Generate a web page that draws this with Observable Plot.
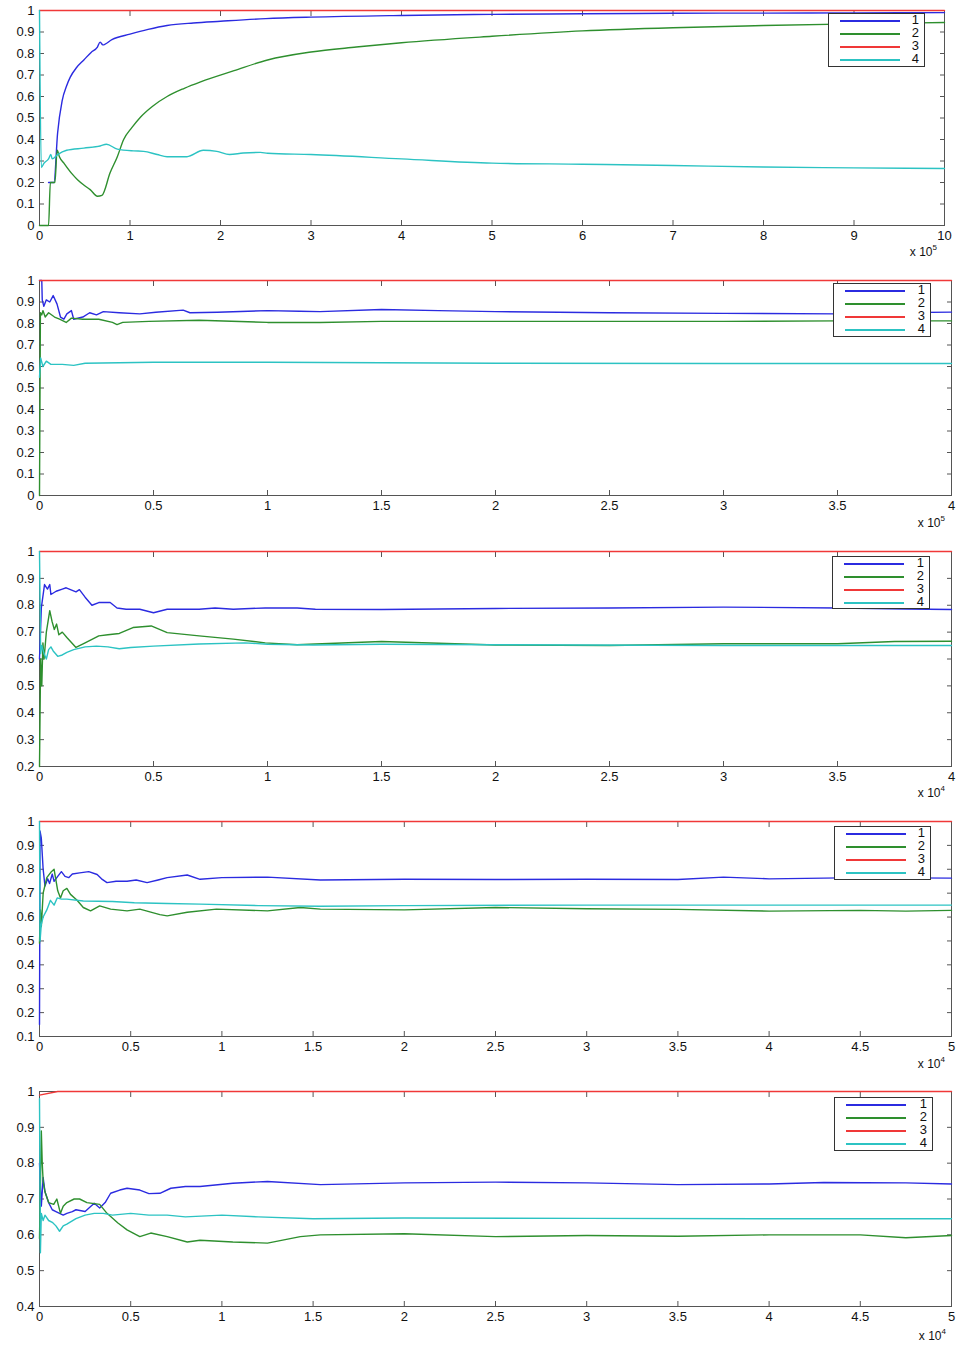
<!DOCTYPE html>
<html><head><meta charset="utf-8">
<script src="https://cdn.jsdelivr.net/npm/d3@7"></script>
<script src="https://cdn.jsdelivr.net/npm/@observablehq/plot@0.6"></script>
<style>
body{margin:0;background:#fff;font-family:"Liberation Sans",Arial,sans-serif;}
#root{position:relative;width:958px;height:1346px;overflow:hidden;background:#fff}
.panel{position:absolute;left:0;width:958px}
.panel svg{display:block}
.legend{position:absolute;border:1px solid #333;background:#fff;box-sizing:border-box;font-size:13px;color:#111}
.legend .row{position:relative;height:13px}
.legend .ln{position:absolute;left:11px;width:60px;top:6px;height:2px}
.legend .lb{position:absolute;right:5px;top:-1px;line-height:14px}
.exp{position:absolute;font-size:12px;color:#111;white-space:nowrap}
.exp sup{font-size:8px;position:relative;top:-1px}
</style>
</head><body><div id="root"></div>
<script>
// ---------- data ----------
const seriesNames = ["1", "2", "3", "4"];
const seriesColors = ["#2b2be0", "#2e8f2e", "#f03838", "#2cc3c3"];

// Panel 1 (x in units of 10^5)
const p1X = [0,1,2,3,4,5,6,7,8,9,10];
const p1Y = [0,0.1,0.2,0.3,0.4,0.5,0.6,0.7,0.8,0.9,1];
const p1S1 = [[0.1,0.2],[0.16,0.2],[0.2,0.43],[0.25,0.58],[0.3,0.65],[0.34,0.69],[0.41,0.735],[0.49,0.77],[0.57,0.805],[0.64,0.83],[0.67,0.853],[0.7,0.84],[0.8,0.865],[1.0,0.89],[1.2,0.912],[1.41,0.93],[1.7,0.942],[2.0,0.95],[2.5,0.962],[3.0,0.969],[4.0,0.977],[5,0.982],[6,0.985],[7,0.987],[8,0.988],[9,0.989],[10,0.99]];
const p1S2 = [[0,0],[0.1,0],[0.12,0.2],[0.17,0.2],[0.195,0.35],[0.22,0.32],[0.27,0.29],[0.36,0.24],[0.42,0.213],[0.5,0.185],[0.56,0.167],[0.64,0.136],[0.69,0.14],[0.78,0.245],[0.86,0.32],[0.93,0.40],[1.02,0.455],[1.12,0.506],[1.25,0.555],[1.41,0.60],[1.6,0.638],[1.78,0.668],[2.15,0.72],[2.52,0.77],[3.0,0.807],[3.5,0.83],[4,0.85],[5,0.88],[6,0.905],[7,0.92],[8,0.93],[9,0.938],[10,0.944]];
const p1S3 = [[0,1],[10,1]];
const p1S4 = [[0,1],[0.02,0.27],[0.05,0.29],[0.1,0.31],[0.125,0.33],[0.14,0.31],[0.2,0.33],[0.3,0.35],[0.49,0.36],[0.67,0.37],[0.74,0.378],[0.86,0.355],[1.04,0.347],[1.15,0.345],[1.3,0.33],[1.41,0.32],[1.63,0.32],[1.81,0.35],[1.96,0.345],[2.1,0.33],[2.25,0.337],[2.44,0.34],[2.52,0.336],[3.0,0.33],[4,0.31],[5,0.29],[6,0.285],[7,0.279],[8,0.272],[9,0.268],[10,0.265]];

// Panel 2 (x in units of 10^5)
const p2X = [0,0.5,1,1.5,2,2.5,3,3.5,4];
const p2Y = [0,0.1,0.2,0.3,0.4,0.5,0.6,0.7,0.8,0.9,1];
const p2S1 = [[0,1],[0.01,1],[0.012,0.91],[0.019,0.88],[0.03,0.91],[0.045,0.9],[0.06,0.93],[0.077,0.89],[0.092,0.83],[0.107,0.82],[0.12,0.845],[0.14,0.86],[0.15,0.82],[0.19,0.83],[0.22,0.85],[0.25,0.84],[0.28,0.855],[0.35,0.85],[0.44,0.845],[0.51,0.852],[0.63,0.862],[0.66,0.85],[0.78,0.852],[1.0,0.86],[1.14,0.857],[1.23,0.855],[1.5,0.865],[1.75,0.86],[2.0,0.855],[2.5,0.85],[3.0,0.847],[3.5,0.845],[3.75,0.85],[4.0,0.853]];
const p2S2 = [[0,0],[0.004,0.85],[0.01,0.84],[0.015,0.86],[0.025,0.83],[0.04,0.85],[0.066,0.83],[0.088,0.82],[0.117,0.805],[0.14,0.825],[0.19,0.82],[0.26,0.82],[0.32,0.805],[0.34,0.795],[0.365,0.805],[0.48,0.81],[0.7,0.815],[1.0,0.805],[1.23,0.805],[1.5,0.81],[2.0,0.81],[2.5,0.81],[3.0,0.81],[3.5,0.812],[4.0,0.812]];
const p2S3 = [[0,1],[4,1]];
const p2S4 = [[0,0.55],[0.005,0.64],[0.015,0.6],[0.03,0.625],[0.05,0.61],[0.1,0.61],[0.15,0.605],[0.2,0.615],[0.5,0.62],[1,0.62],[2,0.615],[3,0.614],[4,0.614]];

// Panel 3 (x in units of 10^4)
const p3X = [0,0.5,1,1.5,2,2.5,3,3.5,4];
const p3Y = [0.2,0.3,0.4,0.5,0.6,0.7,0.8,0.9,1];
const p3S1 = [[0,0.6],[0.008,0.79],[0.022,0.877],[0.035,0.86],[0.045,0.877],[0.05,0.84],[0.073,0.852],[0.1,0.86],[0.117,0.865],[0.16,0.85],[0.175,0.858],[0.2,0.83],[0.23,0.8],[0.26,0.81],[0.31,0.81],[0.34,0.79],[0.38,0.785],[0.44,0.785],[0.5,0.772],[0.56,0.785],[0.7,0.785],[0.77,0.79],[0.85,0.785],[0.99,0.79],[1.13,0.79],[1.21,0.785],[1.5,0.784],[2.0,0.788],[2.5,0.79],[3.0,0.793],[3.5,0.79],[3.8,0.786],[4.0,0.784]];
const p3S2 = [[0,0.2],[0.005,0.6],[0.01,0.5],[0.015,0.66],[0.02,0.6],[0.03,0.7],[0.045,0.78],[0.055,0.74],[0.065,0.71],[0.075,0.73],[0.085,0.69],[0.1,0.7],[0.12,0.68],[0.16,0.643],[0.2,0.66],[0.26,0.686],[0.3,0.69],[0.35,0.695],[0.41,0.717],[0.49,0.723],[0.56,0.698],[0.7,0.686],[0.85,0.674],[0.99,0.66],[1.13,0.653],[1.21,0.656],[1.5,0.665],[2.0,0.652],[2.5,0.65],[3.0,0.657],[3.5,0.657],[3.75,0.665],[4.0,0.666]];
const p3S3 = [[0,1],[4,1]];
const p3S4 = [[0,1],[0.005,0.62],[0.01,0.65],[0.02,0.62],[0.03,0.6],[0.04,0.635],[0.05,0.645],[0.06,0.63],[0.08,0.61],[0.1,0.615],[0.12,0.625],[0.15,0.635],[0.2,0.645],[0.25,0.648],[0.3,0.645],[0.35,0.638],[0.4,0.643],[0.5,0.648],[0.7,0.656],[0.9,0.66],[1.0,0.655],[1.2,0.652],[1.5,0.655],[2,0.653],[3,0.65],[4,0.65]];

// Panel 4 (x in units of 10^4)
const p4X = [0,0.5,1,1.5,2,2.5,3,3.5,4,4.5,5];
const p4Y = [0.1,0.2,0.3,0.4,0.5,0.6,0.7,0.8,0.9,1];
const p4S1 = [[0,0.15],[0.003,0.96],[0.01,0.93],[0.02,0.8],[0.03,0.73],[0.045,0.76],[0.055,0.74],[0.07,0.78],[0.08,0.75],[0.1,0.77],[0.12,0.79],[0.14,0.77],[0.16,0.765],[0.18,0.78],[0.22,0.785],[0.27,0.79],[0.316,0.778],[0.34,0.76],[0.37,0.744],[0.42,0.75],[0.48,0.75],[0.53,0.755],[0.59,0.744],[0.65,0.755],[0.7,0.765],[0.81,0.776],[0.88,0.758],[1.0,0.765],[1.25,0.767],[1.54,0.755],[2.0,0.758],[2.5,0.757],[3.0,0.758],[3.5,0.757],[3.75,0.767],[4.0,0.76],[4.5,0.765],[5.0,0.763]];
const p4S2 = [[0,0.49],[0.005,0.63],[0.01,0.56],[0.02,0.7],[0.04,0.765],[0.065,0.79],[0.08,0.8],[0.1,0.71],[0.115,0.68],[0.13,0.71],[0.15,0.72],[0.17,0.695],[0.206,0.67],[0.24,0.64],[0.28,0.626],[0.33,0.647],[0.39,0.633],[0.48,0.626],[0.55,0.633],[0.66,0.61],[0.7,0.605],[0.81,0.62],[0.97,0.633],[1.25,0.626],[1.43,0.64],[1.54,0.633],[2.0,0.63],[2.5,0.64],[3.0,0.635],[3.5,0.632],[4.0,0.625],[4.5,0.628],[4.75,0.625],[5.0,0.628]];
const p4S3 = [[0,1],[5,1]];
const p4S4 = [[0,1],[0.003,0.5],[0.01,0.57],[0.02,0.6],[0.04,0.63],[0.06,0.67],[0.08,0.65],[0.097,0.68],[0.12,0.675],[0.15,0.675],[0.24,0.667],[0.4,0.665],[0.52,0.66],[0.7,0.657],[0.88,0.654],[1.2,0.648],[1.54,0.645],[2,0.648],[3,0.65],[4,0.65],[5,0.65]];

// Panel 5 (x in units of 10^4)
const p5X = [0,0.5,1,1.5,2,2.5,3,3.5,4,4.5,5];
const p5Y = [0.4,0.5,0.6,0.7,0.8,0.9,1];
const p5S1 = [[0,0.8],[0.01,0.68],[0.02,0.76],[0.03,0.72],[0.05,0.69],[0.07,0.67],[0.09,0.665],[0.11,0.66],[0.13,0.655],[0.15,0.66],[0.18,0.665],[0.2,0.67],[0.25,0.665],[0.3,0.688],[0.33,0.675],[0.36,0.69],[0.39,0.716],[0.44,0.725],[0.48,0.73],[0.55,0.725],[0.6,0.715],[0.66,0.716],[0.72,0.73],[0.8,0.735],[0.88,0.735],[1.06,0.744],[1.25,0.749],[1.54,0.74],[2.0,0.745],[2.5,0.747],[3.0,0.745],[3.5,0.74],[4.0,0.742],[4.3,0.746],[4.75,0.745],[5.0,0.742]];
const p5S2 = [[0,0.59],[0.01,0.89],[0.015,0.8],[0.02,0.75],[0.03,0.72],[0.05,0.69],[0.078,0.685],[0.095,0.7],[0.115,0.66],[0.13,0.68],[0.15,0.69],[0.19,0.7],[0.22,0.7],[0.26,0.69],[0.33,0.685],[0.37,0.66],[0.43,0.633],[0.48,0.614],[0.55,0.595],[0.61,0.605],[0.7,0.595],[0.81,0.58],[0.88,0.585],[1.06,0.58],[1.25,0.577],[1.34,0.586],[1.43,0.595],[1.54,0.6],[2.0,0.603],[2.5,0.595],[3.0,0.598],[3.5,0.596],[4.0,0.6],[4.5,0.6],[4.75,0.592],[5.0,0.598]];
const p5S3 = [[0,0.99],[0.1,1],[5,1]];
const p5S4 = [[0,0.98],[0.005,0.55],[0.01,0.66],[0.02,0.64],[0.03,0.655],[0.05,0.64],[0.07,0.635],[0.09,0.625],[0.11,0.61],[0.13,0.625],[0.15,0.63],[0.2,0.645],[0.25,0.655],[0.3,0.66],[0.35,0.66],[0.4,0.655],[0.5,0.66],[0.6,0.655],[0.7,0.655],[0.8,0.65],[1.0,0.655],[1.2,0.65],[1.5,0.645],[2,0.647],[3,0.646],[4,0.645],[5,0.645]];

const exponents = [5, 5, 4, 4, 4];

// ---------- layout ----------
const panels = [
  {top:0,    h:270, mt:10, mb:45, mr:14, curve:"monotone-x", xT:p1X, yT:p1Y, s:[p1S1,p1S2,p1S3,p1S4], leg:{l:828,t:13,w:97,h:54}, exp:{r:21,t:244}},
  {top:270,  h:270, mt:10, mb:45, mr:7,  curve:"linear", xT:p2X, yT:p2Y, s:[p2S1,p2S2,p2S3,p2S4], leg:{l:833,t:283,w:98,h:54}, exp:{r:13,t:515}},
  {top:540,  h:270, mt:11, mb:44, mr:7,  curve:"linear", xT:p3X, yT:p3Y, s:[p3S1,p3S2,p3S3,p3S4], leg:{l:832,t:556,w:98,h:53}, exp:{r:13,t:785}},
  {top:810,  h:270, mt:11, mb:44, mr:7,  curve:"linear", xT:p4X, yT:p4Y, s:[p4S1,p4S2,p4S3,p4S4], leg:{l:834,t:826,w:97,h:54}, exp:{r:13,t:1056}},
  {top:1080, h:266, mt:11, mb:40, mr:7,  curve:"linear", xT:p5X, yT:p5Y, s:[p5S1,p5S2,p5S3,p5S4], leg:{l:834,t:1097,w:99,h:54}, exp:{r:12,t:1328}}
];

const root = document.getElementById("root");
const blank = () => "";
const fmt = d => String(+(+d).toFixed(2));

panels.forEach((p, idx) => {
  const rows = [];
  p.s.forEach((ser, i) => ser.forEach(([x, y]) => rows.push({x, y, k: seriesNames[i]})));
  const chart = Plot.plot({
    width: 958, height: p.h,
    marginTop: p.mt, marginBottom: p.mb, marginLeft: 39, marginRight: p.mr,
    x: {domain: [p.xT[0], p.xT[p.xT.length - 1]]},
    y: {domain: [p.yT[0], p.yT[p.yT.length - 1]]},
    color: {domain: seriesNames, range: seriesColors},
    style: {fontFamily: '"Liberation Sans", Arial, sans-serif', fontSize: "13px", color: "#111", background: "#fff", overflow: "visible"},
    marks: [
      Plot.frame({stroke: "#555", strokeWidth: 1}),
      Plot.axisY(p.yT, {anchor: "left", tickSize: 0, tickPadding: 5, tickFormat: fmt, label: null}),
      Plot.axisY(p.yT, {anchor: "left", tickSize: 5, dx: 5, tickFormat: blank, label: null, stroke: "#555"}),
      Plot.axisY(p.yT, {anchor: "right", tickSize: 5, dx: -5, tickFormat: blank, label: null, stroke: "#555"}),
      Plot.axisX(p.xT, {anchor: "bottom", tickSize: 0, tickPadding: 5, tickFormat: fmt, label: null}),
      Plot.axisX(p.xT, {anchor: "bottom", tickSize: 5, dy: -5, tickFormat: blank, label: null, stroke: "#555"}),
      Plot.axisX(p.xT, {anchor: "top", tickSize: 5, dy: 5, tickFormat: blank, label: null, stroke: "#555"}),
      Plot.line(rows, {x: "x", y: "y", z: "k", stroke: "k", strokeWidth: 1.4, curve: p.curve})
    ]
  });
  const wrap = document.createElement("div");
  wrap.className = "panel";
  wrap.style.top = p.top + "px";
  wrap.style.height = p.h + "px";
  wrap.appendChild(chart);
  root.appendChild(wrap);

  const leg = document.createElement("div");
  leg.className = "legend";
  Object.assign(leg.style, {left: p.leg.l + "px", top: p.leg.t + "px", width: p.leg.w + "px", height: p.leg.h + "px"});
  seriesNames.forEach((n, i) => {
    const r = document.createElement("div");
    r.className = "row";
    const ln = document.createElement("div");
    ln.className = "ln"; ln.style.background = seriesColors[i];
    const lb = document.createElement("div");
    lb.className = "lb"; lb.textContent = n;
    r.appendChild(ln); r.appendChild(lb);
    leg.appendChild(r);
  });
  root.appendChild(leg);

  const ex = document.createElement("div");
  ex.className = "exp";
  ex.style.right = p.exp.r + "px";
  ex.style.top = p.exp.t + "px";
  ex.innerHTML = "x 10<sup>" + exponents[idx] + "</sup>";
  root.appendChild(ex);
});
</script>
</body></html>
